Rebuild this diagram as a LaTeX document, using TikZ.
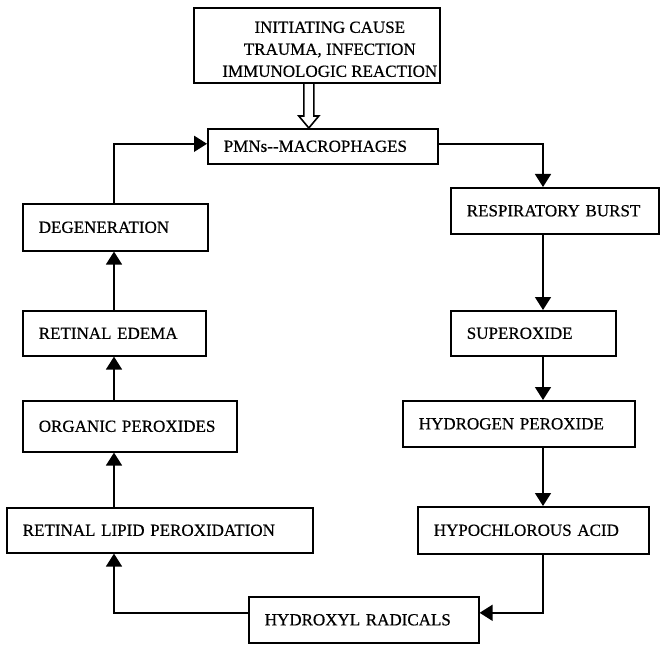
\documentclass[tikz,border=0pt]{standalone}
\usepackage{fontspec}
\setmainfont{Liberation Serif}[FakeBold=0.5]
\usetikzlibrary{arrows.meta,calc}

\tikzset{
  label font/.style={font=\fontsize{17}{22}\selectfont},
  stage/.style={draw, line width=1.6pt, anchor=north west, inner xsep=16pt,
    inner ysep=0pt, align=left, label font},
  flow/.style={line width=1.6pt, -{Triangle[length=13pt,width=16pt]}},
  hollow/.style={line width=1.6pt, line join=miter},
}

\begin{document}
\begin{tikzpicture}[x=1pt, y=-1pt]
  \useasboundingbox (0,0) rectangle (660,644);

  % initiating cause (text sits a little right of centre)
  \node[draw, line width=1.6pt, anchor=north west, minimum width=246pt,
        minimum height=75pt, inner sep=0pt] (cause) at (193,7) {};
  \node[align=center, label font, inner sep=0pt]
        (causetext) at ($(cause.center)+(13,4)$)
        {INITIATING CAUSE\\ TRAUMA, INFECTION\\ IMMUNOLOGIC REACTION};

  % central box
  \node[stage, text width=198pt, minimum height=35pt] (pmn) at (207,128) {PMNs-{}-MACROPHAGES};

  % oxidative branch (right)
  \node[stage, text width=176pt, minimum height=46pt] (resp) at (450,187) {\mbox{RESPIRATORY BURST}};
  \node[stage, text width=133pt, minimum height=45pt] (sup)  at (450,310) {SUPEROXIDE};
  \node[stage, text width=200pt, minimum height=46pt] (hyd)  at (402,400) {\mbox{HYDROGEN PEROXIDE}};
  \node[stage, text width=199pt, minimum height=47pt] (hypo) at (417,506) {\mbox{HYPOCHLOROUS ACID}};

  % bottom
  \node[stage, text width=198pt, minimum height=46pt] (hydroxyl) at (248,596) {\mbox{HYDROXYL RADICALS}};

  % tissue damage branch (left)
  \node[stage, text width=274pt, minimum height=45pt] (lipid) at (6,507)   {\mbox{RETINAL LIPID PEROXIDATION}};
  \node[stage, text width=182pt, minimum height=51pt] (org)   at (22,400)  {\mbox{ORGANIC PEROXIDES}};
  \node[stage, text width=151pt, minimum height=45pt] (edema) at (22,310)  {\mbox{RETINAL EDEMA}};
  \node[stage, text width=153pt, minimum height=47pt] (degen) at (22,203)  {DEGENERATION};

  % connector columns
  \coordinate (rx) at (543,0);
  \coordinate (lx) at (114,0);

  % hollow double arrow from the cause to the cells
  \coordinate (tip) at ([xshift=-14pt]pmn.north);
  \draw[hollow] ($(tip |- cause.south)+(-5,0)$) -- ($(tip)+(-5,-12)$)
        -- ($(tip)+(-10,-12)$) -- (tip) -- ($(tip)+(10,-12)$)
        -- ($(tip)+(5,-12)$) -- ($(tip |- cause.south)+(5,0)$);

  % right branch
  \draw[flow] ([yshift=2.5pt]pmn.east) -| (resp.north -| rx);
  \draw[flow] (resp.south -| rx) -- (sup.north -| rx);
  \draw[flow] (sup.south -| rx) -- (hyd.north -| rx);
  \draw[flow] (hyd.south -| rx) -- (hypo.north -| rx);
  \draw[flow] (hypo.south -| rx) |- ([yshift=7pt]hydroxyl.east);

  % left branch
  \draw[flow] ([yshift=7pt]hydroxyl.west) -| (lipid.south -| lx);
  \draw[flow] (lipid.north -| lx) -- (org.south -| lx);
  \draw[flow] (org.north -| lx) -- (edema.south -| lx);
  \draw[flow] (edema.north -| lx) -- (degen.south -| lx);
  \draw[flow] (degen.north -| lx) |- ([yshift=2.5pt]pmn.west);
\end{tikzpicture}
\end{document}
